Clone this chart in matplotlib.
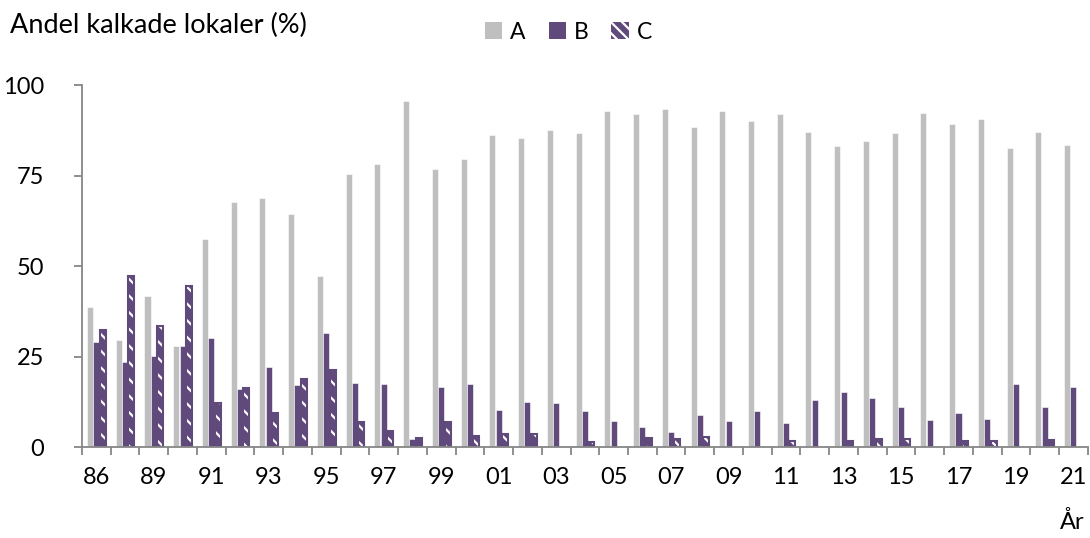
import matplotlib.pyplot as plt
from matplotlib.patches import Patch
import numpy as np

plt.rcParams['font.family'] = ['Lato', 'DejaVu Sans']

years = ["86", "88", "89", "90", "91", "92", "93", "94", "95", "96", "97", "98",
         "99", "00", "01", "02", "03", "04", "05", "06", "07", "08", "09", "10",
         "11", "12", "13", "14", "15", "16", "17", "18", "19", "20", "21"]
a_vals = [38.7, 29.5, 41.7, 27.8, 57.6, 67.7, 68.9, 64.3, 47.3, 75.5, 78.2, 95.6,
          76.7, 79.7, 86.2, 85.3, 87.6, 86.7, 92.8, 92.1, 93.5, 88.4, 92.7, 90.0,
          92.0, 87.1, 83.1, 84.4, 86.8, 92.4, 89.3, 90.7, 82.6, 87.1, 83.4]
b_vals = [29.0, 23.5, 25.1, 27.8, 30.2, 16.1, 22.1, 17.1, 31.5, 17.7, 17.3, 2.1,
          16.5, 17.3, 10.2, 12.4, 12.2, 9.9, 7.2, 5.5, 4.2, 8.9, 7.3, 9.9,
          6.7, 12.9, 15.3, 13.6, 11.2, 7.6, 9.4, 7.7, 17.3, 11.0, 16.6]
c_vals = [32.4, 47.3, 33.5, 44.6, 12.3, 16.4, 9.4, 18.7, 21.2, 6.9, 4.5, 2.5,
          6.9, 3.0, 3.7, 3.5, 0, 1.3, 0, 2.5, 2.3, 2.8, 0, 0,
          1.7, 0, 1.75, 2.1, 2.1, 0, 1.6, 1.75, 0, 2.0, 0]

gray = "#BFBFBF"
purple = "#604A7B"
axcol = "#868686"

fig = plt.figure(figsize=(10.9, 5.38), dpi=100)
ax = fig.add_axes([0.0752, 0.169, 0.9228, 0.673])

x = np.arange(len(years))
w = 0.21
ax.bar(x - 0.22, a_vals, w, color=gray, edgecolor="white", linewidth=0.4)
ax.bar(x, b_vals, w, color=purple, edgecolor="white", linewidth=0.4)
c_mask = np.array(c_vals) > 0
plt.rcParams['hatch.linewidth'] = 1.6
ax.bar(x[c_mask] + 0.22, np.array(c_vals)[c_mask], w, color=purple,
       edgecolor="white", hatch="\\\\", linewidth=0)
ax.bar(x[c_mask] + 0.22, np.array(c_vals)[c_mask], w, fill=False,
       edgecolor=purple, linewidth=1.5)

ax.set_xlim(-0.5, len(years) - 0.5)
ax.set_ylim(0, 100)
ax.set_yticks([0, 25, 50, 75, 100])
ax.set_xticks(x[::2])
ax.set_xticklabels(years[::2])
ax.set_xticks(np.arange(-0.5, len(years)), minor=True)
ax.tick_params(axis="x", which="major", length=0, pad=14, labelsize=17)
ax.tick_params(axis="x", which="minor", length=6, color=axcol, width=1.3)
ax.tick_params(axis="y", length=6, color=axcol, width=1.3, pad=21, labelsize=17)

for s in ["top", "right"]:
    ax.spines[s].set_visible(False)
for s in ["left", "bottom"]:
    ax.spines[s].set_color(axcol)
    ax.spines[s].set_linewidth(1.3)

fig.text(0.009, 0.953, "Andel kalkade lokaler (%)", fontsize=19.5, va="center")
fig.text(0.995, 0.03, "År", fontsize=17, ha="right", va="center")

handles = [Patch(facecolor=gray), Patch(facecolor=purple),
           Patch(facecolor=purple, edgecolor="white", hatch="\\\\\\", linewidth=0)]
leg = fig.legend(handles, ["A", "B", "C"], loc="center left", bbox_to_anchor=(0.426, 0.94),
                 ncol=3, frameon=False, fontsize=16.5, handlelength=0.75, handleheight=0.75,
                 handletextpad=0.35, columnspacing=1.0)

fig.savefig("out.png", dpi=100)
